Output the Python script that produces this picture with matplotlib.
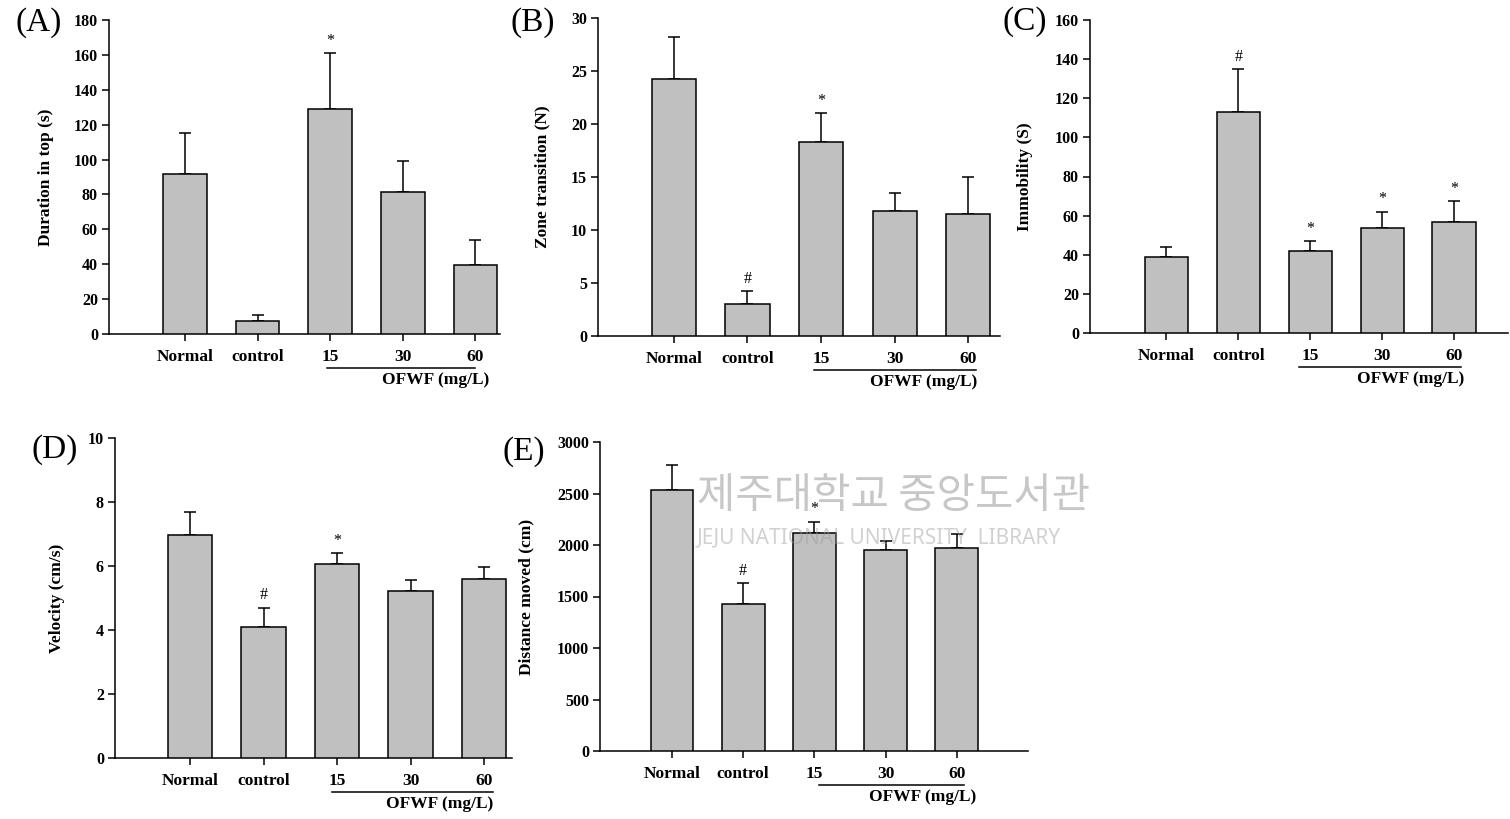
import numpy as np
import matplotlib
matplotlib.use("Agg")
import matplotlib.pyplot as plt
from matplotlib.lines import Line2D

plt.rcParams['font.family'] = ['Liberation Serif', 'DejaVu Serif']
plt.rcParams['font.weight'] = 'bold'

W, H = 1510, 819

groups = ["Normal", "control", "15", "30", "60"]
group_title = "OFWF (mg/L)"

# (A) duration in top
dur_mean = [91.8, 7.6, 129.0, 81.3, 39.3]
dur_top = [115.0, 10.9, 161.0, 99.0, 53.6]
dur_mark = ["", "", "*", "", ""]

# (B) zone transition
zone_mean = [24.2, 3.0, 18.3, 11.75, 11.5]
zone_top = [28.2, 4.25, 21.0, 13.47, 15.0]
zone_mark = ["", "#", "*", "", ""]

# (C) immobility
imm_mean = [38.6, 113.2, 41.7, 53.6, 56.9]
imm_top = [43.9, 135.0, 47.1, 62.1, 67.6]
imm_mark = ["", "#", "*", "*", "*"]

# (D) velocity
vel_mean = [6.97, 4.09, 6.06, 5.22, 5.58]
vel_top = [7.68, 4.70, 6.40, 5.55, 5.96]
vel_mark = ["", "#", "*", "", ""]

# (E) distance moved
dist_mean = [2534, 1424, 2120, 1948, 1974]
dist_top = [2773, 1628, 2227, 2035, 2110]
dist_mark = ["", "#", "*", "", ""]

panels = [
    # letter, ylabel, mean, top, marks, ymax, ystep, box(l, r, t, b px), xlim,
    # ylabel offset px, underline, title x, letter pos px
    ("(A)", "Duration in top (s)", dur_mean, dur_top, dur_mark, 180, 20,
     (109, 500, 20, 334), (-1.05, 4.34), 55, (1.95, 4.0), 3.45, (39, 23)),
    ("(B)", "Zone transition (N)", zone_mean, zone_top, zone_mark, 30, 5,
     (598, 1000, 18, 336), (-1.03, 4.43), 48, (1.9, 4.1), 3.39, (533, 23)),
    ("(C)", "Immobility (S)", imm_mean, imm_top, imm_mark, 160, 20,
     (1090, 1508, 20, 333), (-1.06, 4.75), 57, (1.85, 4.1), 3.39, (1025, 22)),
    ("(D)", "Velocity (cm/s)", vel_mean, vel_top, vel_mark, 10, 2,
     (115, 512, 438, 758), (-1.02, 4.38), 50, (1.93, 4.12), 3.4, (55, 450)),
    ("(E)", "Distance moved (cm)", dist_mean, dist_top, dist_mark, 3000, 500,
     (600, 1028, 442, 751), (-1.01, 5.0), 66, (2.07, 4.1), 3.52, (524, 452)),
]

fig = plt.figure(figsize=(W / 100, H / 100), dpi=100)

for (letter, ylab, mean, top, marks, ymax, ystep, box, xlim, yoff,
     uline, tx, lpos) in panels:
    l, r, t, b = box
    ax = fig.add_axes([l / W, 1 - b / H, (r - l) / W, (b - t) / H])
    x = np.arange(len(groups))
    mean = np.array(mean, dtype=float)
    err = np.array(top, dtype=float) - mean
    ax.errorbar(x, mean, yerr=[np.zeros_like(err), err], fmt='none',
                ecolor='black', elinewidth=1.1, capsize=4, capthick=1.1, zorder=2)
    ax.bar(x, mean, width=0.6, color='#c0c0c0', edgecolor='black',
           linewidth=1.1, zorder=3)
    for xi, yt, m in zip(x, top, marks):
        if m:
            ax.annotate(m, (xi, yt), xytext=(0, 3), textcoords='offset points',
                        ha='center', va='bottom', fontsize=11.5, fontweight='normal')
    ax.set_xlim(*xlim)
    ax.set_ylim(0, ymax)
    ax.set_yticks(np.arange(0, ymax + ystep / 2, ystep))
    ax.set_xticks(x)
    ax.set_xticklabels(groups)
    for s in ['top', 'right']:
        ax.spines[s].set_visible(False)
    for s in ['left', 'bottom']:
        ax.spines[s].set_linewidth(1.1)
    ax.tick_params(axis='both', direction='out', length=5, width=1.1)
    ax.tick_params(axis='y', labelsize=11.5, pad=3)
    ax.tick_params(axis='x', labelsize=12.5, pad=6)
    ax.set_ylabel(ylab, fontsize=12.5, fontweight='bold')
    hpx = b - t
    ax.yaxis.set_label_coords(-yoff / (r - l), 0.5)
    # group underline and title
    ln = Line2D(list(uline), [-34 / hpx] * 2, transform=ax.get_xaxis_transform(),
                color='black', linewidth=1.1, clip_on=False)
    ax.add_line(ln)
    ax.text(tx, -46 / hpx, group_title, transform=ax.get_xaxis_transform(),
            ha='center', va='center', fontsize=12.5, fontweight='bold')
    fig.text(lpos[0] / W, 1 - lpos[1] / H, letter, ha='center', va='center',
             fontsize=24, fontweight='normal')

# library watermark
fig.text(697 / W, 1 - 497 / H, "제주대학교 중앙도서관", ha='left', va='center',
         fontsize=30, color='#9a9a9a', alpha=0.55,
         family=['Noto Sans CJK KR', 'DejaVu Sans'], fontweight='normal')
fig.text(697 / W, 1 - 538 / H, "JEJU NATIONAL UNIVERSITY  LIBRARY", ha='left',
         va='center', fontsize=15, color='#9a9a9a', alpha=0.45,
         family=['Noto Sans', 'DejaVu Sans'], fontweight='normal')

fig.savefig("out.png", dpi=100)
